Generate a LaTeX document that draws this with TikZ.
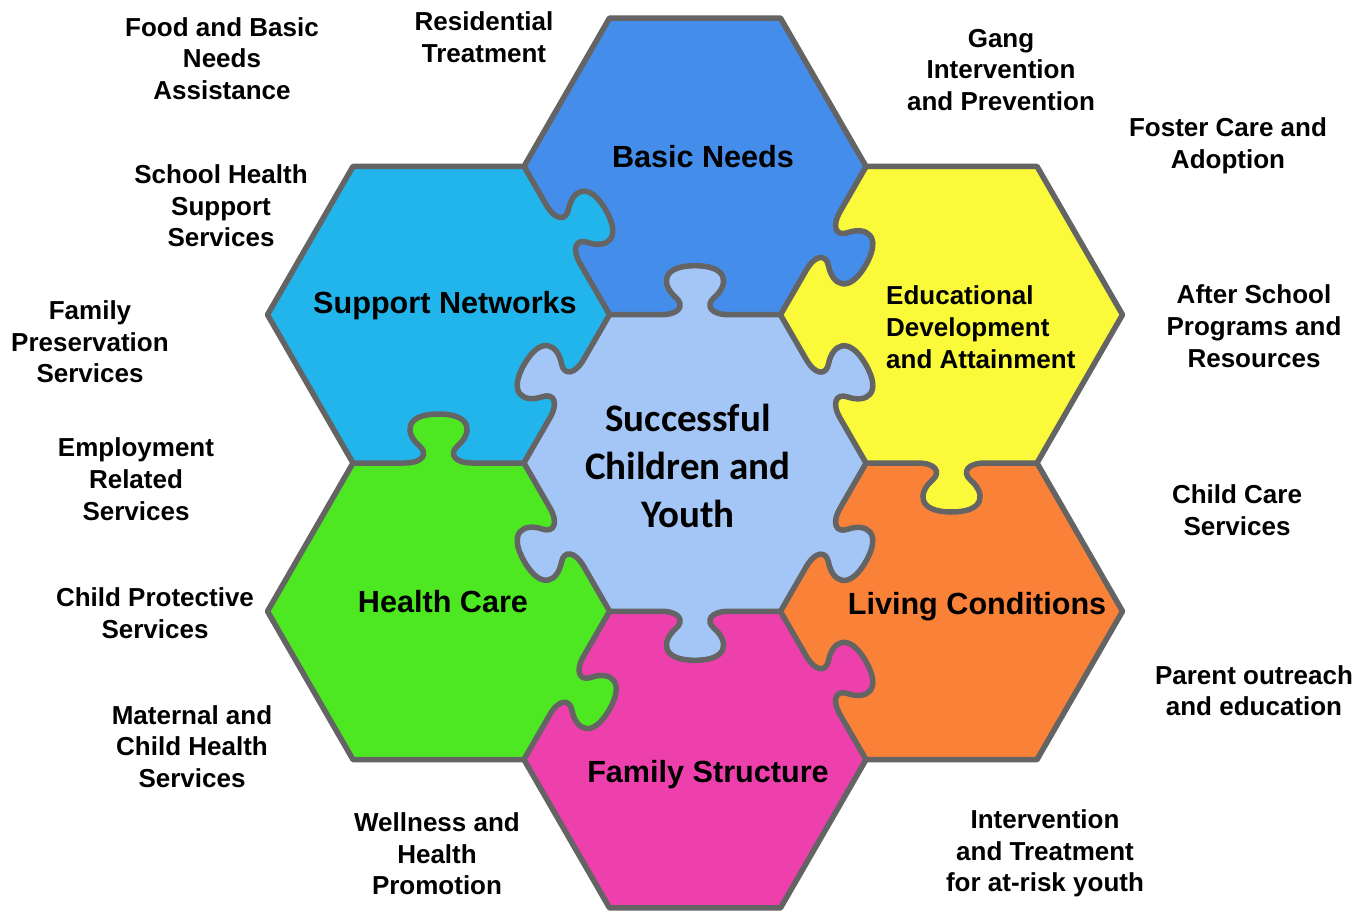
\documentclass[tikz,border=0pt]{standalone}
\usepackage{fontspec}
\setmainfont{Liberation Sans}
\newfontfamily\calib{Carlito}
\definecolor{cBN}{HTML}{448DEA}
\definecolor{cSN}{HTML}{22B5EB}
\definecolor{cED}{HTML}{FAFA3A}
\definecolor{cLC}{HTML}{F98238}
\definecolor{cFS}{HTML}{EE40AC}
\definecolor{cHC}{HTML}{4EE823}
\definecolor{cC}{HTML}{A4C6F6}
\definecolor{lineGray}{HTML}{646464}
\newcommand{\hexdef}[3]{%
 \coordinate (#1) at (#2,#3);
 \coordinate (#1-0) at ({#2+171},{#3});
 \coordinate (#1-1) at ({#2+85.5},{#3+148.3});
 \coordinate (#1-2) at ({#2-85.5},{#3+148.3});
 \coordinate (#1-3) at ({#2-171},{#3});
 \coordinate (#1-4) at ({#2-85.5},{#3-148.3});
 \coordinate (#1-5) at ({#2+85.5},{#3-148.3});
}
\newcommand{\hexfill}[2]{\fill[#2] (#1-0) -- (#1-1) -- (#1-2) -- (#1-3) -- (#1-4) -- (#1-5) -- cycle;}
% #1 start vertex, #2 angle, #3 side, #4 offset along edge, #5 colour
\newcommand{\knobfill}[5]{%
 \begin{scope}[shift={(#1)},rotate=#2,yscale=#3]
 \begin{scope}[xshift=#4]
  \fill[#5] (51.5,-4) -- (51.5,0) .. controls (69.5,0) and (75.5,9) .. (66.5,17) .. controls (51.5,30) and (51.5,49) .. (85.5,49) .. controls (119.5,49) and (119.5,30) .. (104.5,17) .. controls (95.5,9) and (101.5,0) .. (119.5,0) -- (119.5,-4) -- cycle;
 \end{scope}
 \end{scope}}
\newcommand{\knobline}[4]{%
 \begin{scope}[shift={(#1)},rotate=#2,yscale=#3]
  \draw[edgeline] (0,0) -- ({51.5+#4},0) .. controls ({69.5+#4},0) and ({75.5+#4},9) .. ({66.5+#4},17) .. controls ({51.5+#4},30) and ({51.5+#4},49) .. ({85.5+#4},49) .. controls ({119.5+#4},49) and ({119.5+#4},30) .. ({104.5+#4},17) .. controls ({95.5+#4},9) and ({101.5+#4},0) .. ({119.5+#4},0) -- (171,0);
 \end{scope}}
\begin{document}
\begin{tikzpicture}[x=1pt,y=1pt,
  edgeline/.style={draw=lineGray,line width=5.5pt,line join=round,line cap=round},
  lab/.style={font=\fontsize{26}{31.6}\selectfont\bfseries,align=center,inner sep=0pt},
  hexlab/.style={font=\fontsize{30.6}{36}\selectfont\bfseries,inner sep=0pt}]
\useasboundingbox (0,0) rectangle (1359,-912);
\fill[white] (0,0) rectangle (1359,-912);
\hexdef{c0}{695}{-463}
\hexdef{BN}{695}{-166.4}
\hexdef{FS}{695}{-759.6}
\hexdef{SN}{438.5}{-314.7}
\hexdef{ED}{951.5}{-314.7}
\hexdef{HC}{438.5}{-611.3}
\hexdef{LC}{951.5}{-611.3}
% fills
\hexfill{BN}{cBN}
\hexfill{SN}{cSN}
\hexfill{ED}{cED}
\hexfill{LC}{cLC}
\hexfill{FS}{cFS}
\hexfill{HC}{cHC}
\hexfill{c0}{cC}
% knob fills
\knobfill{c0-0}{120}{-1}{0}{cC}
\knobfill{c0-1}{180}{-1}{0}{cC}
\knobfill{c0-2}{240}{-1}{0}{cC}
\knobfill{c0-3}{300}{-1}{0}{cC}
\knobfill{c0-4}{0}{-1}{0}{cC}
\knobfill{c0-5}{60}{-1}{0}{cC}
\knobfill{BN-3}{300}{1}{-7}{cSN}
\knobfill{BN-5}{60}{-1}{0}{cBN}
\knobfill{ED-4}{0}{-1}{0}{cED}
\knobfill{FS-0}{120}{-1}{0}{cFS}
\knobfill{FS-2}{240}{1}{0}{cHC}
\knobfill{HC-1}{180}{-1}{0}{cHC}
% outer boundary
\draw[edgeline] (BN-2) -- (BN-1) -- (BN-0) -- (ED-1) -- (ED-0) -- (ED-5) -- (LC-0) -- (LC-5) -- (LC-4) -- (FS-5) -- (FS-4) -- (FS-3) -- (HC-4) -- (HC-3) -- (HC-2) -- (SN-3) -- (SN-2) -- (SN-1) -- cycle;
% knob edges
\knobline{c0-0}{120}{-1}{0}
\knobline{c0-1}{180}{-1}{0}
\knobline{c0-2}{240}{-1}{0}
\knobline{c0-3}{300}{-1}{0}
\knobline{c0-4}{0}{-1}{0}
\knobline{c0-5}{60}{-1}{0}
\knobline{BN-3}{300}{1}{-7}
\knobline{BN-5}{60}{-1}{0}
\knobline{ED-4}{0}{-1}{0}
\knobline{FS-0}{120}{-1}{0}
\knobline{FS-2}{240}{1}{0}
\knobline{HC-1}{180}{-1}{0}
% hex labels
\node[hexlab] (tBN) at (703,-157) {Basic Needs};
\node[hexlab] (tSN) at (445,-306) {Support Networks};
\node[hexlab] (tLC) at (977,-607) {Living Conditions};
\node[hexlab] (tHC) at (443,-602) {Health Care};
\node[hexlab] (tFS) at (708,-775) {Family Structure};
\node[font=\fontsize{26}{32}\selectfont\bfseries,align=left,inner sep=0pt,anchor=west] (tED) at (886,-327) {Educational\\Development\\and Attainment};
\node[font=\calib\bfseries\fontsize{39}{48}\selectfont,align=center,inner sep=0pt] (tC) at (688,-466) {Successful\\Children and\\Youth};
% outer labels
\node[lab] (l1) at (222,-58.5) {Food and Basic\\Needs\\Assistance};
\node[lab] (l2) at (484,-37.5) {Residential\\Treatment};
\node[lab] (l3) at (1001,-69.8) {Gang\\Intervention\\and Prevention};
\node[lab] (l4) at (1228,-145.5) {Foster Care and\\Adoption};
\node[lab] (l5) at (221,-205.8) {School Health\\Support\\Services};
\node[lab] (l6) at (90,-341.8) {Family\\Preservation\\Services};
\node[lab] (l7) at (1254,-326.2) {After School\\Programs and\\Resources};
\node[lab] (l8) at (136,-479.2) {Employment\\Related\\Services};
\node[lab] (l9) at (1237,-510.5) {Child Care\\Services};
\node[lab] (l10) at (155,-613.2) {Child Protective\\Services};
\node[lab] (l11) at (1254,-690.8) {Parent outreach\\and education};
\node[lab] (l12) at (192,-746.5) {Maternal and\\Child Health\\Services};
\node[lab] (l13) at (437,-853.8) {Wellness and\\Health\\Promotion};
\node[lab] (l14) at (1045,-853.3) {Intervention\\and Treatment\\for at-risk youth};
\end{tikzpicture}
\end{document}
